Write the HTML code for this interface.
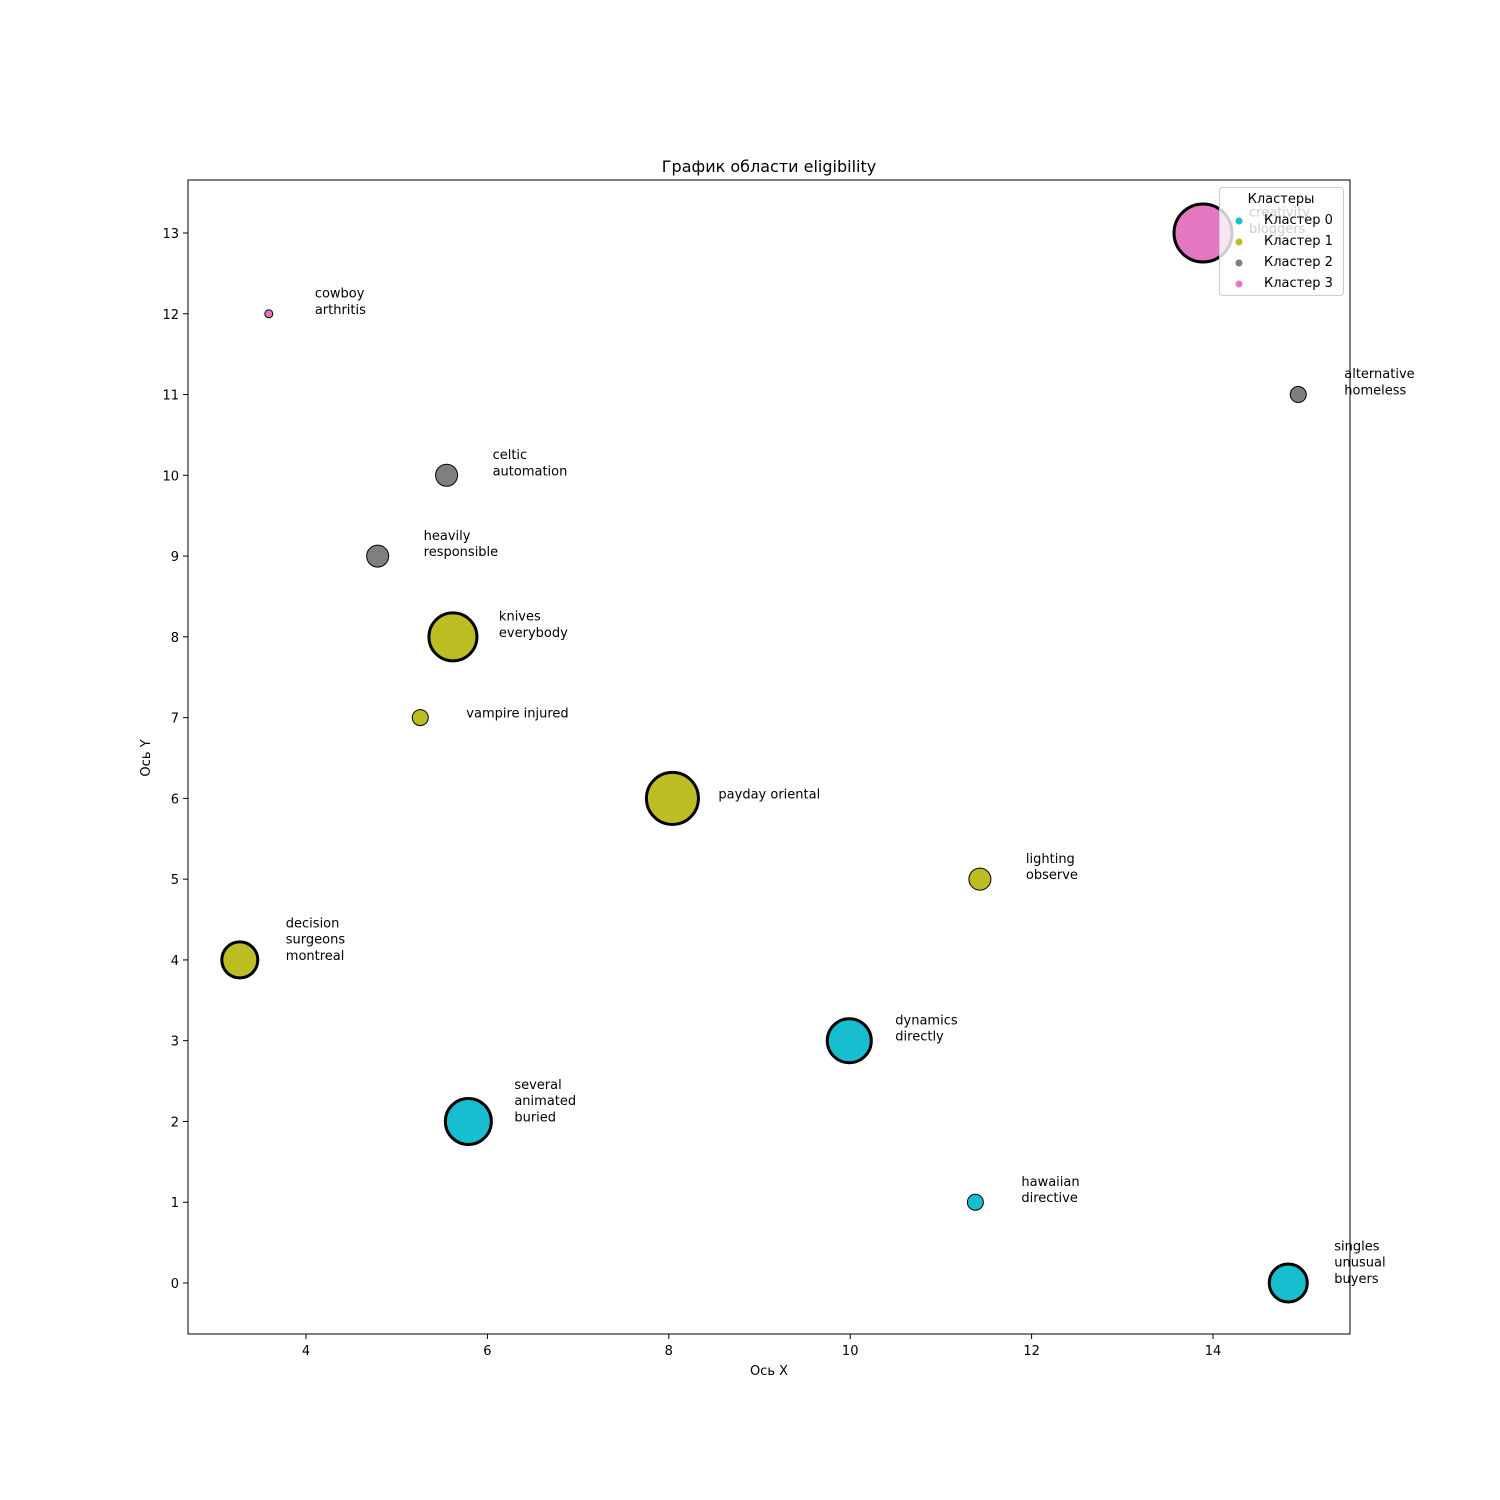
<!DOCTYPE html>
<html><head><meta charset="utf-8"><style>
body{margin:0;background:#fff;}
svg{display:block;font-family:"DejaVu Sans","Liberation Sans",sans-serif;}
</style></head><body>
<svg id="chart" width="1500" height="1500" xmlns="http://www.w3.org/2000/svg"></svg>
<script>
const labels=[["cowboy","arthritis"],["creativity","bloggers"],["alternative","homeless"],["celtic","automation"],["heavily","responsible"],["knives","everybody"],["vampire injured"],["payday oriental"],["lighting","observe"],["decision","surgeons","montreal"],["dynamics","directly"],["several","animated","buried"],["hawaiian","directive"],["singles","unusual","buyers"]];
const xs=[3.59,13.89,14.94,5.55,4.79,5.62,5.26,8.04,11.43,3.27,9.99,5.79,11.38,14.83];
const ys=[12,13,11,10,9,8,7,6,5,4,3,2,1,0];
const radii=[4,29,8,11,11,24,8,26,11,18,22,23,8,19];
const clusters=[3,3,2,2,2,1,1,1,1,1,0,0,0,0];
const xTicks=[4,6,8,10,12,14];
const yTicks=[0,1,2,3,4,5,6,7,8,9,10,11,12,13];
const colors=["#17becf","#bcbd22","#7f7f7f","#e377c2"];
const L=188,R=1350,T=180,B=1334;
const sx=v=>306+(v-4)*(1213-306)/10;
const sy=v=>1283-v*(1283-233)/13;
const svg=document.getElementById('chart');
const NS="http://www.w3.org/2000/svg";
function mk(tag,attrs,parent){const e=document.createElementNS(NS,tag);for(const k in attrs)e.setAttribute(k,attrs[k]);(parent||svg).appendChild(e);return e;}
let t=mk('text',{x:769,y:172,'text-anchor':'middle','font-size':16});t.textContent='График области eligibility';


xTicks.forEach(v=>{const g=mk('g',{});


mk('line',{x1:sx(v),x2:sx(v),y1:B,y2:B+5,stroke:'#000'},g);
const tx=mk('text',{x:sx(v),y:B+21,'text-anchor':'middle','font-size':13},g);tx.textContent=v;});
yTicks.forEach(v=>{const g=mk('g',{});


mk('line',{x1:L-5,x2:L,y1:sy(v),y2:sy(v),stroke:'#000'},g);
const tx=mk('text',{x:L-9,y:sy(v)+5,'text-anchor':'end','font-size':13},g);tx.textContent=v;});
t=mk('text',{x:769,y:1375,'text-anchor':'middle','font-size':13});t.textContent='Ось X';


t=mk('text',{x:150,y:758,'text-anchor':'middle','font-size':13,transform:'rotate(-90 150 758)'});t.textContent='Ось Y';


xs.forEach((x,i)=>{const cx=sx(x),cy=sy(ys[i]);
const c=mk('circle',{cx:cx,cy:cy,r:radii[i],fill:colors[clusters[i]],stroke:'#000','stroke-width':radii[i]>=15?3:1});


const n=labels[i].length;
const tx=mk('text',{'font-size':13});


labels[i].forEach((s,j)=>{const ts=mk('tspan',{x:cx+46,y:cy-(n-1-j)*16.3},tx);ts.textContent=s;});});
const lg=mk('g',{});


mk('rect',{x:1219.5,y:187.5,width:124,height:108,rx:3,fill:'#fff','fill-opacity':0.8,stroke:'#ccc'},lg);
t=mk('text',{x:1281,y:203,'text-anchor':'middle','font-size':13},lg);t.textContent='Кластеры';
colors.forEach((col,k)=>{const y=219+k*21;
const g=mk('g',{},lg);


mk('circle',{cx:1239,cy:y+2,r:3.5,fill:col},g);
const tx=mk('text',{x:1264,y:y+5,'font-size':13},g);tx.textContent='Кластер '+k;});
const fr=mk('rect',{x:L,y:T,width:R-L,height:B-T,fill:'none',stroke:'#000','stroke-width':1});


</script>
</body></html>
